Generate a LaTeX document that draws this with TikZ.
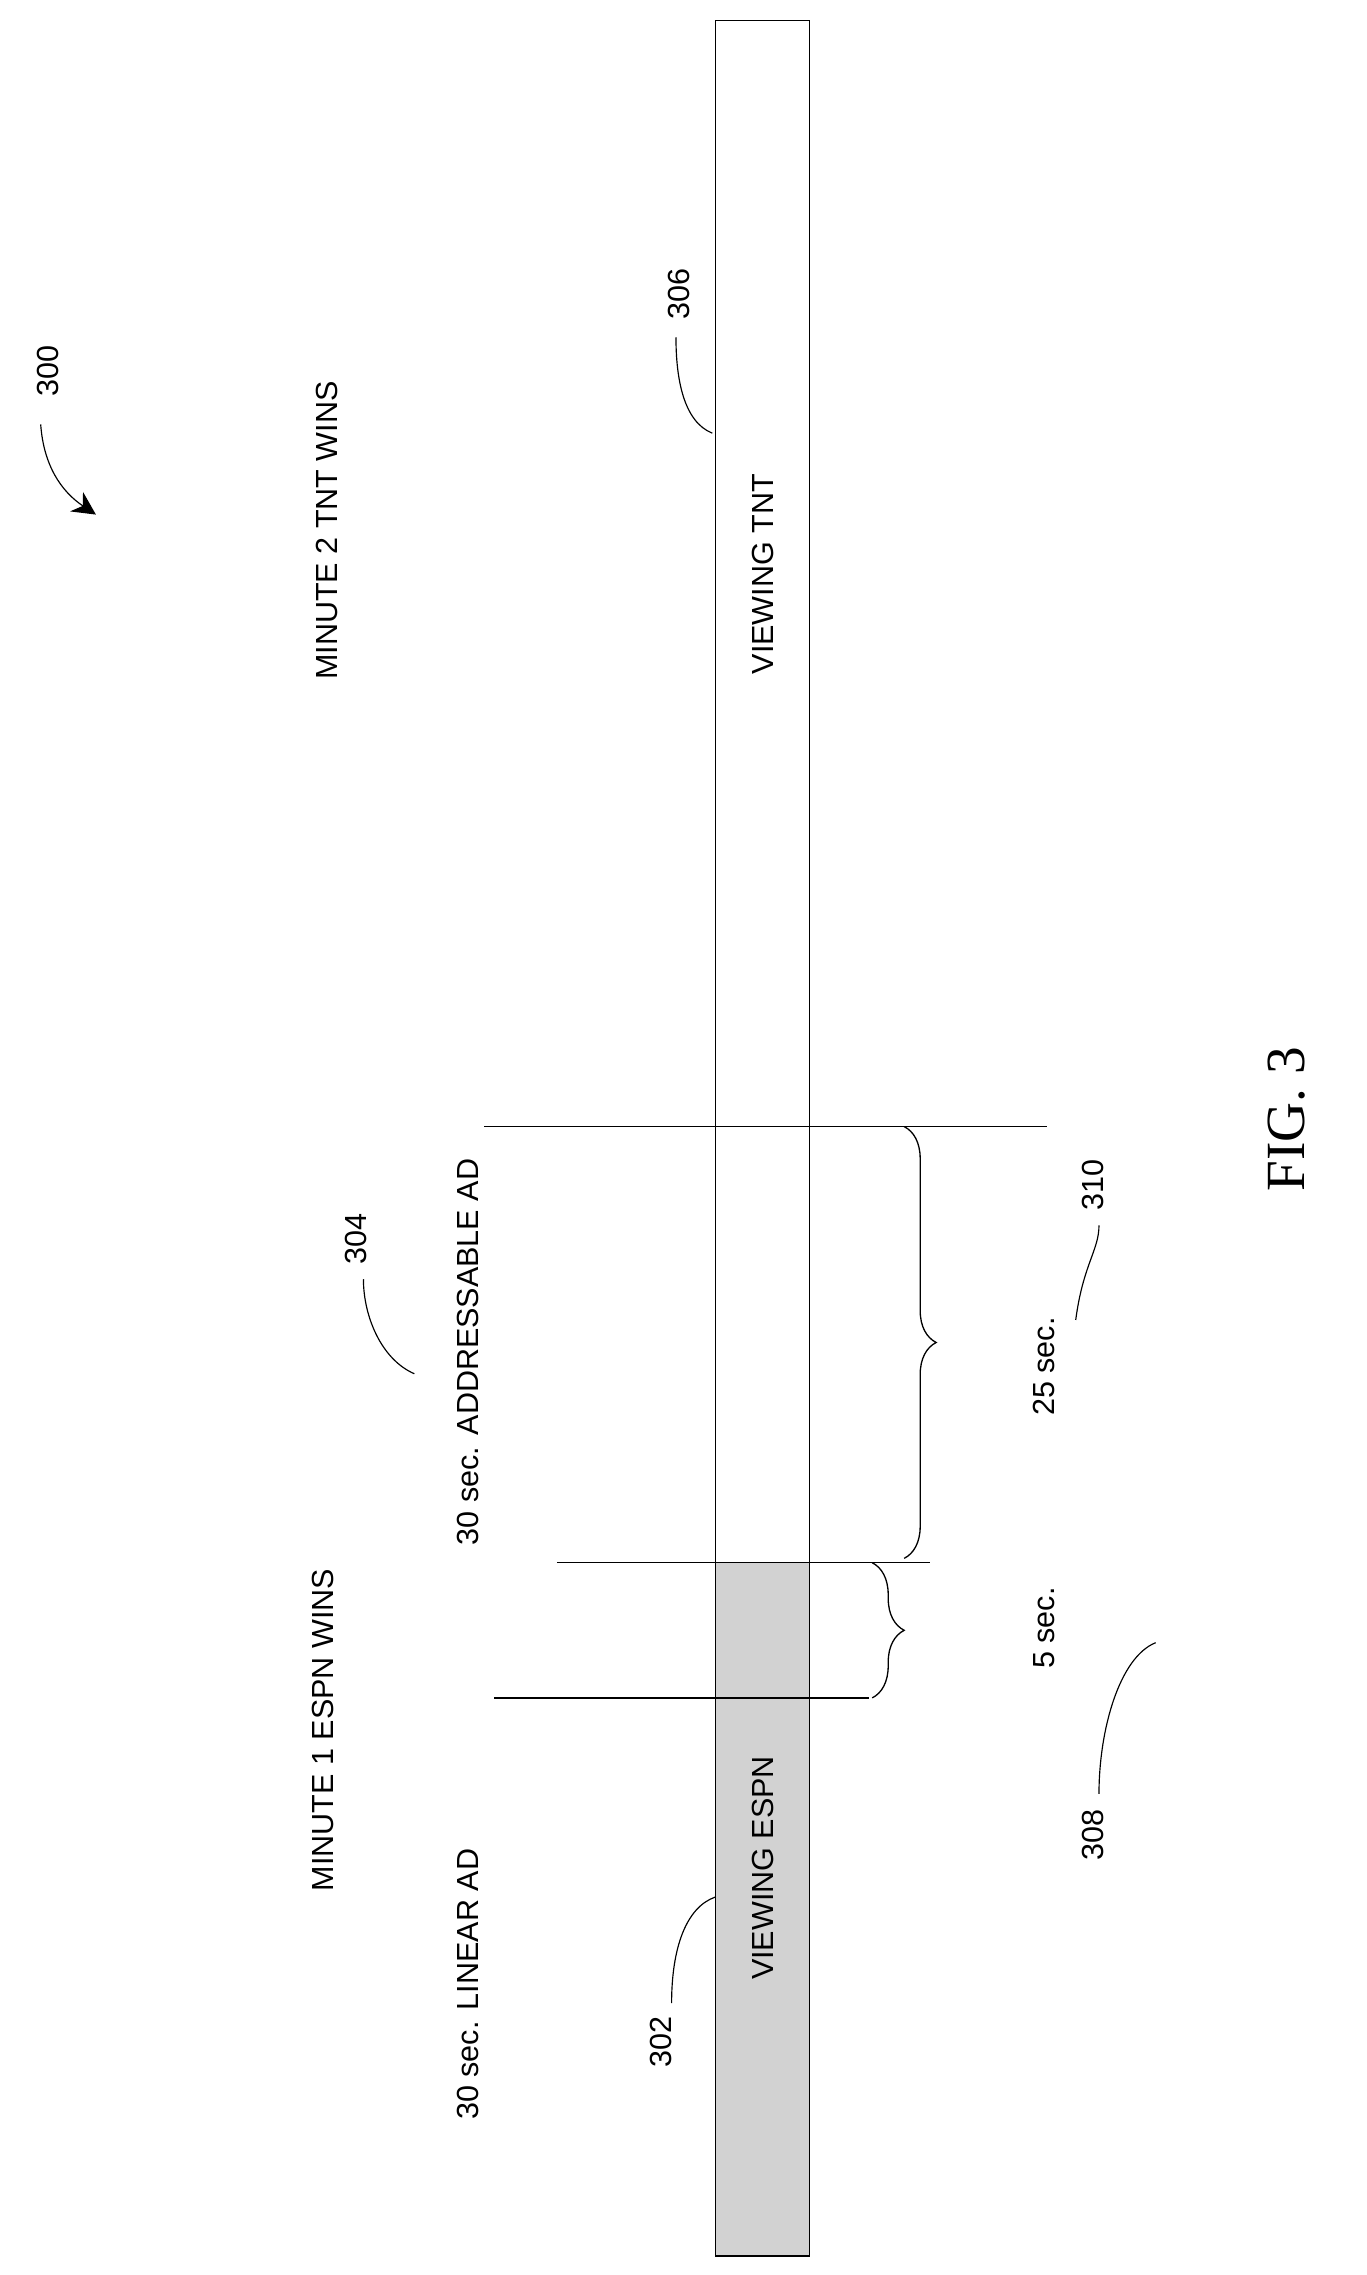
\documentclass[tikz,border=0pt]{standalone}
\usepackage{fontspec}
\setmainfont{Liberation Sans}
\newfontfamily\seriffont{Liberation Serif}
\usetikzlibrary{decorations.pathreplacing,arrows.meta}
\begin{document}
\begin{tikzpicture}[x=1pt,y=-1pt,
  lbl/.style={rotate=90,font=\fontsize{21}{21}\selectfont,inner sep=0},
  ln/.style={line width=0.9pt},
  lead/.style={line width=0.8pt}]
\useasboundingbox (0,0) rectangle (940,1565);
% bar
\fill[gray!35] (492,1075) rectangle (557,1552);
\draw[ln] (492,14) rectangle (557,1552);
% dividers
\draw[ln] (340,1168) -- (598,1168);
\draw[ln] (383,1075) -- (640,1075);
\draw[ln] (333,775) -- (720,775);
% braces
\draw[ln,decorate,decoration={brace,amplitude=22pt}] (600,1075) -- (600,1168);
\draw[ln,decorate,decoration={brace,amplitude=22pt}] (622,775) -- (622,1072);
% texts
\node[lbl] (m1) at (222,1190) {MINUTE 1 ESPN WINS};
\node[lbl] (m2) at (225,365) {MINUTE 2 TNT WINS};
\node[lbl] (la) at (322,1365) {30 sec. LINEAR AD};
\node[lbl] (aa) at (322,930) {30 sec. ADDRESSABLE AD};
\node[lbl] (ve) at (525,1285) {VIEWING ESPN};
\node[lbl] (vt) at (525,395) {VIEWING TNT};
\node[lbl] (s5) at (718,1120) {5 sec.};
\node[lbl] (s25) at (718,940) {25 sec.};
\node[lbl] (n302) at (455,1405) {302};
\node[lbl] (n304) at (245,852) {304};
\node[lbl] (n306) at (467,202) {306};
\node[lbl] (n308) at (752,1262) {308};
\node[lbl] (n310) at (752,815) {310};
\node[lbl] (n300) at (33,255) {300};
\node[rotate=90,font=\seriffont\fontsize{38}{38}\selectfont,inner sep=0] (fig) at (885,770) {FIG. 3};
% leader end points
\coordinate (e302) at (462,1378);
\coordinate (e304) at (250,880);
\coordinate (e306) at (465,232);
\coordinate (e308) at (756,1234);
\coordinate (e310) at (756,843);
\coordinate (s300) at (28,292);
% leaders
\draw[lead] (492,1305) .. controls (472,1312) and (462,1340) .. (e302);
\draw[lead] (285,945) .. controls (262,935) and (250,905) .. (e304);
\draw[lead] (490,298) .. controls (470,290) and (465,260) .. (e306);
\draw[lead] (795,1130) .. controls (770,1140) and (756,1190) .. (e308);
\draw[lead] (740,908) .. controls (745,870) and (756,860) .. (e310);
\draw[lead,-{Stealth[length=16pt,width=16pt]}] (s300) .. controls (30,320) and (42,338) .. (66,354);
\end{tikzpicture}
\end{document}
